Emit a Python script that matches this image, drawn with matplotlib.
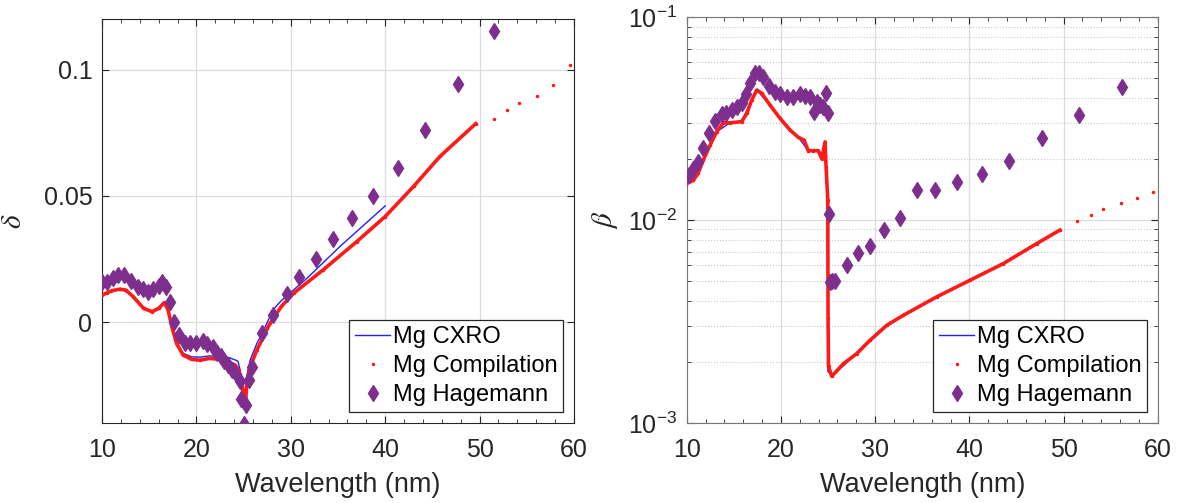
import numpy as np
import matplotlib
matplotlib.use('Agg')
import matplotlib.pyplot as plt
from matplotlib.lines import Line2D

plt.rcParams['font.family'] = ['Liberation Sans', 'DejaVu Sans']
plt.rcParams['mathtext.fontset'] = 'custom'
plt.rcParams['mathtext.rm'] = 'Liberation Sans'
plt.rcParams['mathtext.it'] = 'Liberation Sans:italic'

# ---- delta panel (left) ----
comp_x_d = [10.0, 10.5, 11.0, 11.9, 12.5, 13.3, 14.4, 15.3, 16.0, 16.6, 17.0, 17.4, 17.9,
            18.6, 19.5, 20.4, 21.4, 22.5, 23.4, 24.1, 24.5, 24.7, 24.9, 25.0, 25.2, 25.3,
            25.7, 26.4, 27.1, 27.8, 29.0, 30.3, 33.4, 37.0, 40.0, 43.0, 45.8, 49.6,
            51.5, 52.9, 54.2, 56.1, 57.8, 59.6]
comp_delta = [0.0107, 0.0115, 0.0124, 0.0130, 0.0127, 0.0101, 0.0054, 0.0041, 0.0054, 0.0077,
              0.0048, -0.0019, -0.0085, -0.0131, -0.0148, -0.0151, -0.0144, -0.0148, -0.0157,
              -0.0171, -0.0191, -0.0230, -0.0270, -0.0323, -0.0336, -0.0257, -0.0177, -0.0111,
              -0.0058, -0.0005, 0.0062, 0.0114, 0.0206, 0.0319, 0.0418, 0.0537, 0.0656, 0.0786,
              0.0805, 0.0838, 0.0868, 0.0897, 0.0938, 0.1019]

cxro_x_d = [10.0, 11.9, 13.3, 14.4, 15.3, 16.0, 16.6, 17.0, 17.4, 17.9, 18.6, 19.5, 20.4,
            21.4, 22.5, 23.4, 24.1, 24.4, 24.6, 24.8, 25.0, 25.1, 25.3, 25.7, 26.4, 27.1,
            28.1, 29.0, 31.7, 35.2, 40.0]
cxro_delta = [0.0110, 0.0133, 0.0104, 0.0057, 0.0044, 0.0057, 0.0080, 0.0050, -0.0015, -0.0080,
              -0.0124, -0.0138, -0.0139, -0.0134, -0.0136, -0.0140, -0.0150, -0.0155, -0.0185,
              -0.0240, -0.0290, -0.0300, -0.0220, -0.0150, -0.0085, -0.0035, 0.0048, 0.0085,
              0.0173, 0.0299, 0.0460]

hag_x_d = [10.03, 10.56, 11.13, 11.73, 12.37, 13.04, 13.85, 14.38, 14.9, 15.44, 16.04, 16.32,
           16.78, 17.2, 17.66, 18.19, 18.8, 19.32, 19.96, 20.73, 21.16, 21.72, 22.22, 22.6,
           22.92, 23.31, 23.73, 24.16, 24.62, 24.69, 25.04, 25.25, 25.57, 25.86, 26.92, 28.15,
           29.56, 30.9, 32.67, 34.44, 36.45, 38.74, 41.32, 44.25, 47.68, 51.56]
hag_delta = [0.0158, 0.0160, 0.0173, 0.0187, 0.0187, 0.0164, 0.0138, 0.0130, 0.0120, 0.0130,
             0.0143, 0.0160, 0.0138, 0.0081, 0.0001, -0.0052, -0.0082, -0.0082, -0.0082,
             -0.0074, -0.0085, -0.0098, -0.0122, -0.0135, -0.0154, -0.0171, -0.0188, -0.0204,
             -0.0233, -0.0303, -0.0402, -0.0330, -0.0230, -0.0177, -0.0042, 0.0028, 0.0111,
             0.0177, 0.0249, 0.0328, 0.0412, 0.0500, 0.0610, 0.0759, 0.0941, 0.1152]

# ---- beta panel (right) ----
comp_x_b = [10.0, 10.7, 11.2, 11.76, 12.47, 13.18, 13.89, 14.6, 15.84, 16.37, 16.9, 17.43,
            17.96, 18.84, 19.9, 20.97, 21.85, 22.45, 22.9, 23.44, 23.97, 24.33, 24.68, 24.79,
            24.97, 25.0, 25.05, 25.39, 26.63, 28.05, 29.46, 31.23, 33.0, 36.54, 40.08, 43.61,
            47.16, 49.6, 51.47, 52.92, 54.23, 56.1, 57.77, 59.54]
comp_beta = [0.0152, 0.0157, 0.0170, 0.0198, 0.0234, 0.0273, 0.0302, 0.0302, 0.0306, 0.0336,
             0.0391, 0.0438, 0.0422, 0.0369, 0.0318, 0.0278, 0.0256, 0.0248, 0.0220, 0.0220,
             0.0220, 0.0201, 0.0243, 0.0183, 0.0126, 0.0033, 0.0019, 0.0017, 0.00196, 0.0022,
             0.00256, 0.00303, 0.0034, 0.00419, 0.00506, 0.00611, 0.00767, 0.00893, 0.00989,
             0.0106, 0.0113, 0.0122, 0.0129, 0.0138]

cxro_x_b = [10.0, 11.76, 13.18, 14.6, 15.84, 16.9, 17.43, 18.84, 19.9, 21.85, 22.9, 23.97,
            24.33, 24.68, 24.79, 24.95, 24.98, 25.39, 28.05, 31.23, 36.54, 40.08]
cxro_beta = [0.0152, 0.0198, 0.0273, 0.0302, 0.0306, 0.0391, 0.0438, 0.0369, 0.0318, 0.0256,
             0.0220, 0.0220, 0.0201, 0.0243, 0.0183, 0.0126, 0.0018, 0.0017, 0.0022, 0.00303,
             0.00419, 0.00506]

hag_x_b = [10.28, 10.7, 11.23, 11.76, 12.4, 13.0, 13.72, 14.2, 14.78, 15.31, 15.84, 16.3,
           16.72, 17.25, 17.68, 18.13, 18.77, 19.37, 19.9, 20.62, 21.32, 22.03, 22.56, 23.09,
           23.55, 23.8, 24.15, 24.5, 24.79, 24.97, 25.1, 25.2, 25.45, 25.7, 26.98, 28.2, 29.5,
           30.95, 32.6, 34.4, 36.4, 38.7, 41.3, 44.25, 47.75, 51.6, 56.25]
hag_beta = [0.01667, 0.0178, 0.0194, 0.0226, 0.0268, 0.0309, 0.0333, 0.0338, 0.0349, 0.0360,
            0.0377, 0.0418, 0.0476, 0.0529, 0.0533, 0.0506, 0.0458, 0.0430, 0.0418, 0.0406,
            0.0406, 0.0418, 0.0409, 0.0406, 0.0342, 0.0384, 0.0369, 0.0362, 0.0425, 0.0338,
            0.0107, 0.00497, 0.0050, 0.0050, 0.0060, 0.00686, 0.00745, 0.00893, 0.0103,
            0.01406, 0.01406, 0.01546, 0.01686, 0.0196, 0.0253, 0.0330, 0.0455]

red = '#ff1a1a'
blue = '#1f1fff'
purple = '#7e2f8e'
txt = '#262626'

fig = plt.figure(figsize=(11.82, 5.03), dpi=100)
ax1 = fig.add_axes([0.0863, 0.159, 0.3993, 0.803])
ax2 = fig.add_axes([0.581, 0.159, 0.3985, 0.8066])


def draw(ax, cx, cy, kx, ky, hx, hy):
    cx = np.array(cx)
    cy = np.array(cy)
    dense = cx <= 50
    ax.plot(kx, ky, '-', color=blue, lw=1.0, zorder=2)
    ax.plot(cx[dense], cy[dense], '-', color=red, lw=2.6, zorder=3)
    ax.plot(cx, cy, '.', color=red, ms=3, zorder=3)
    ax.plot(hx, hy, 'd', color=purple, ms=8, zorder=4)
    ax.set_xlim(10, 60)
    ax.set_xticks([10, 20, 30, 40, 50, 60])
    ax.set_xticks(np.arange(10, 61, 2), minor=True)
    ax.tick_params(which='both', direction='in', top=True, right=True, colors=txt,
                   labelsize=18)
    ax.tick_params(axis='x', pad=11)
    ax.tick_params(axis='y', pad=7)
    ax.tick_params(which='major', length=5)
    ax.tick_params(which='minor', length=3)
    ax.grid(True, which='major', color='#dcdcdc', lw=0.9)
    ax.set_axisbelow(True)
    ax.set_xlabel('Wavelength (nm)', fontsize=19.5, color=txt, labelpad=7)
    handles = [Line2D([], [], color=blue, lw=1.0),
               Line2D([], [], color=red, ls='none', marker='.', ms=3),
               Line2D([], [], color=purple, ls='none', marker='d', ms=8)]
    leg = ax.legend(handles, ['Mg CXRO', 'Mg Compilation', 'Mg Hagemann'],
                    loc='lower right', fontsize=17, frameon=True, fancybox=False,
                    framealpha=1, edgecolor=txt, handlelength=1.5, handletextpad=0.1,
                    labelspacing=0.3, borderpad=0.25, borderaxespad=0.45)
    leg.get_frame().set_linewidth(0.9)
    for t in leg.get_texts():
        t.set_color('black')


draw(ax1, comp_x_d, comp_delta, cxro_x_d, cxro_delta, hag_x_d, hag_delta)
ax1.set_ylim(-0.04, 0.12)
ax1.set_yticks([0, 0.05, 0.1])
ax1.set_yticklabels(['0', '0.05', '0.1'])
ax1.set_ylabel(r'$\delta$', fontsize=21, color=txt, math_fontfamily='stix', labelpad=12)
for s in ax1.spines.values():
    s.set_color(txt)

draw(ax2, comp_x_b, comp_beta, cxro_x_b, cxro_beta, hag_x_b, hag_beta)
ax2.set_yscale('log')
ax2.set_ylim(1e-3, 1e-1)
ax2.grid(True, which='minor', axis='y', color='#c8c8c8', lw=0.8, ls=':')
ax2.set_ylabel(r'$\beta$', fontsize=21, color=txt, math_fontfamily='stix', labelpad=6)
for s in ax2.spines.values():
    s.set_color('#777777')

fig.savefig('out.png', dpi=100)
